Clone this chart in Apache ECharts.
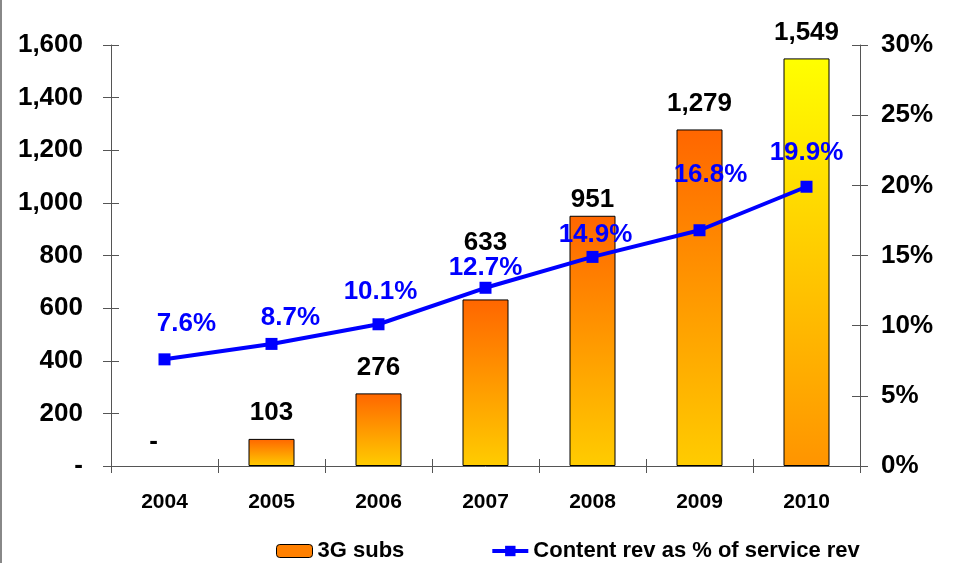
<!DOCTYPE html>
<html>
<head>
<meta charset="utf-8">
<title>3G subs and content revenue</title>
<script src="https://cdn.jsdelivr.net/npm/echarts@6/dist/echarts.min.js"></script>
<style>
  html, body { margin: 0; padding: 0; background: #fff; }
  #chart { width: 957px; height: 563px; }
</style>
</head>
<body>
<div id="chart"></div>
<script>
// Values
const years = ['2004', '2005', '2006', '2007', '2008', '2009', '2010'];
const subs3G = [0, 103, 276, 633, 951, 1279, 1549];
const contentShare = [7.6, 8.7, 10.1, 12.7, 14.9, 16.8, 19.9];
const leftTicks = { min: 0, max: 1600, interval: 200 };
const rightTicks = { min: 0, max: 30, interval: 5 };

// Styling helpers
const FONT = "'Liberation Sans', Arial, Helvetica, sans-serif";
const AXIS_COLOR = '#555';
const ORANGE_UP = ['#FF6600', '#FFCC00'];   // top -> bottom
const YELLOW_UP = ['#FFFF00', '#FF9400'];
const barGradients = [ORANGE_UP, ORANGE_UP, ORANGE_UP, ORANGE_UP, ORANGE_UP, ORANGE_UP, YELLOW_UP];
const barLabelOffsets = [[-11, 2], [0, 0], [0, 0], [0, -31], [0, 10], [0, 0], [0, 0]];
const lineLabelOffsets = [[22, -36], [19, -26], [2, -32], [0, -20], [3, -22], [11, -55], [0, -34]];

function grad(stops) {
  return new echarts.graphic.LinearGradient(0, 0, 0, 1, [
    { offset: 0, color: stops[0] },
    { offset: 1, color: stops[1] }
  ]);
}

const fmtNum = v => v === 0 ? '-' : v.toLocaleString('en-US');

const chart = echarts.init(document.getElementById('chart'), null, { renderer: 'canvas' });

const tickStyle = { lineStyle: { color: AXIS_COLOR, width: 1 } };

chart.setOption({
  animation: false,
  textStyle: { fontFamily: FONT },
  grid: { left: 111, right: 97, top: 45, bottom: 97, containLabel: false },
  legend: {
    left: 271,
    top: 535,
    itemWidth: 36,
    itemHeight: 13,
    itemGap: 86,
    textStyle: { fontFamily: FONT, fontSize: 22, fontWeight: 'bold', color: '#000' },
    data: [
      { name: '3G subs', itemStyle: { color: '#FF8000', borderColor: '#000', borderWidth: 1 } },
      {
        name: 'Content rev as % of service rev',
        itemStyle: { color: '#0000FF' },
        lineStyle: { color: '#0000FF', width: 4 }
      }
    ]
  },
  xAxis: [
    {
      type: 'category',
      data: years,
      position: 'bottom',
      axisLine: { show: true, lineStyle: { color: AXIS_COLOR, width: 1 } },
      axisTick: Object.assign({ show: true, length: 7, inside: false, alignWithLabel: false, interval: 0 }, tickStyle),
      axisLabel: { margin: 26, fontSize: 21, fontWeight: 'bold', color: '#000', fontFamily: FONT }
    },
    {
      type: 'category',
      data: years,
      position: 'bottom',
      axisLine: { show: false },
      axisTick: Object.assign({ show: true, length: 7, inside: true, alignWithLabel: false, interval: 0 }, tickStyle),
      axisLabel: { show: false }
    }
  ],
  yAxis: [
    {
      type: 'value',
      position: 'left',
      min: leftTicks.min, max: leftTicks.max, interval: leftTicks.interval,
      splitLine: { show: false },
      axisLine: { show: true, lineStyle: { color: AXIS_COLOR, width: 1 } },
      axisTick: Object.assign({ show: true, length: 8 }, tickStyle),
      axisLabel: { margin: 28, fontSize: 26, fontWeight: 'bold', color: '#000', fontFamily: FONT, formatter: fmtNum }
    },
    {
      type: 'value',
      position: 'right',
      min: rightTicks.min, max: rightTicks.max, interval: rightTicks.interval,
      splitLine: { show: false },
      axisLine: { show: true, lineStyle: { color: AXIS_COLOR, width: 1 } },
      axisTick: Object.assign({ show: true, length: 8 }, tickStyle),
      axisLabel: { margin: 21, fontSize: 26, fontWeight: 'bold', color: '#000', fontFamily: FONT, formatter: '{value}%' }
    },
    {
      type: 'value',
      position: 'left',
      min: leftTicks.min, max: leftTicks.max, interval: leftTicks.interval,
      splitLine: { show: false },
      axisLine: { show: false },
      axisTick: Object.assign({ show: true, length: 8, inside: true }, tickStyle),
      axisLabel: { show: false }
    },
    {
      type: 'value',
      position: 'right',
      min: rightTicks.min, max: rightTicks.max, interval: rightTicks.interval,
      splitLine: { show: false },
      axisLine: { show: false },
      axisTick: Object.assign({ show: true, length: 8, inside: true }, tickStyle),
      axisLabel: { show: false }
    }
  ],
  series: [
    {
      name: '3G subs',
      type: 'bar',
      xAxisIndex: 0,
      yAxisIndex: 0,
      barWidth: 46,
      data: subs3G.map((v, i) => ({
        value: v,
        itemStyle: {
          color: grad(barGradients[i]),
          borderColor: '#000',
          borderWidth: v === 0 ? 0 : 1
        },
        label: { offset: barLabelOffsets[i] }
      })),
      label: {
        show: true,
        position: 'top',
        distance: 13,
        lineHeight: 26,
        fontSize: 26,
        fontWeight: 'bold',
        color: '#000',
        fontFamily: FONT,
        formatter: p => fmtNum(p.value)
      },
      z: 2
    },
    {
      name: 'Content rev as % of service rev',
      type: 'line',
      xAxisIndex: 0,
      yAxisIndex: 1,
      symbol: 'rect',
      symbolSize: 12,
      itemStyle: { color: '#0000FF' },
      lineStyle: { color: '#0000FF', width: 4 },
      data: contentShare.map((v, i) => ({
        value: v,
        label: { offset: lineLabelOffsets[i] }
      })),
      label: {
        show: true,
        position: 'inside',
        fontSize: 26,
        fontWeight: 'bold',
        color: '#0000FF',
        fontFamily: FONT,
        formatter: p => p.value.toFixed(1) + '%'
      },
      z: 3
    }
  ],
  graphic: [
    {
      type: 'rect',
      left: 0, top: 0,
      shape: { x: 0, y: 0, width: 2, height: 563 },
      style: { fill: '#888' }
    }
  ]
});
</script>
</body>
</html>
